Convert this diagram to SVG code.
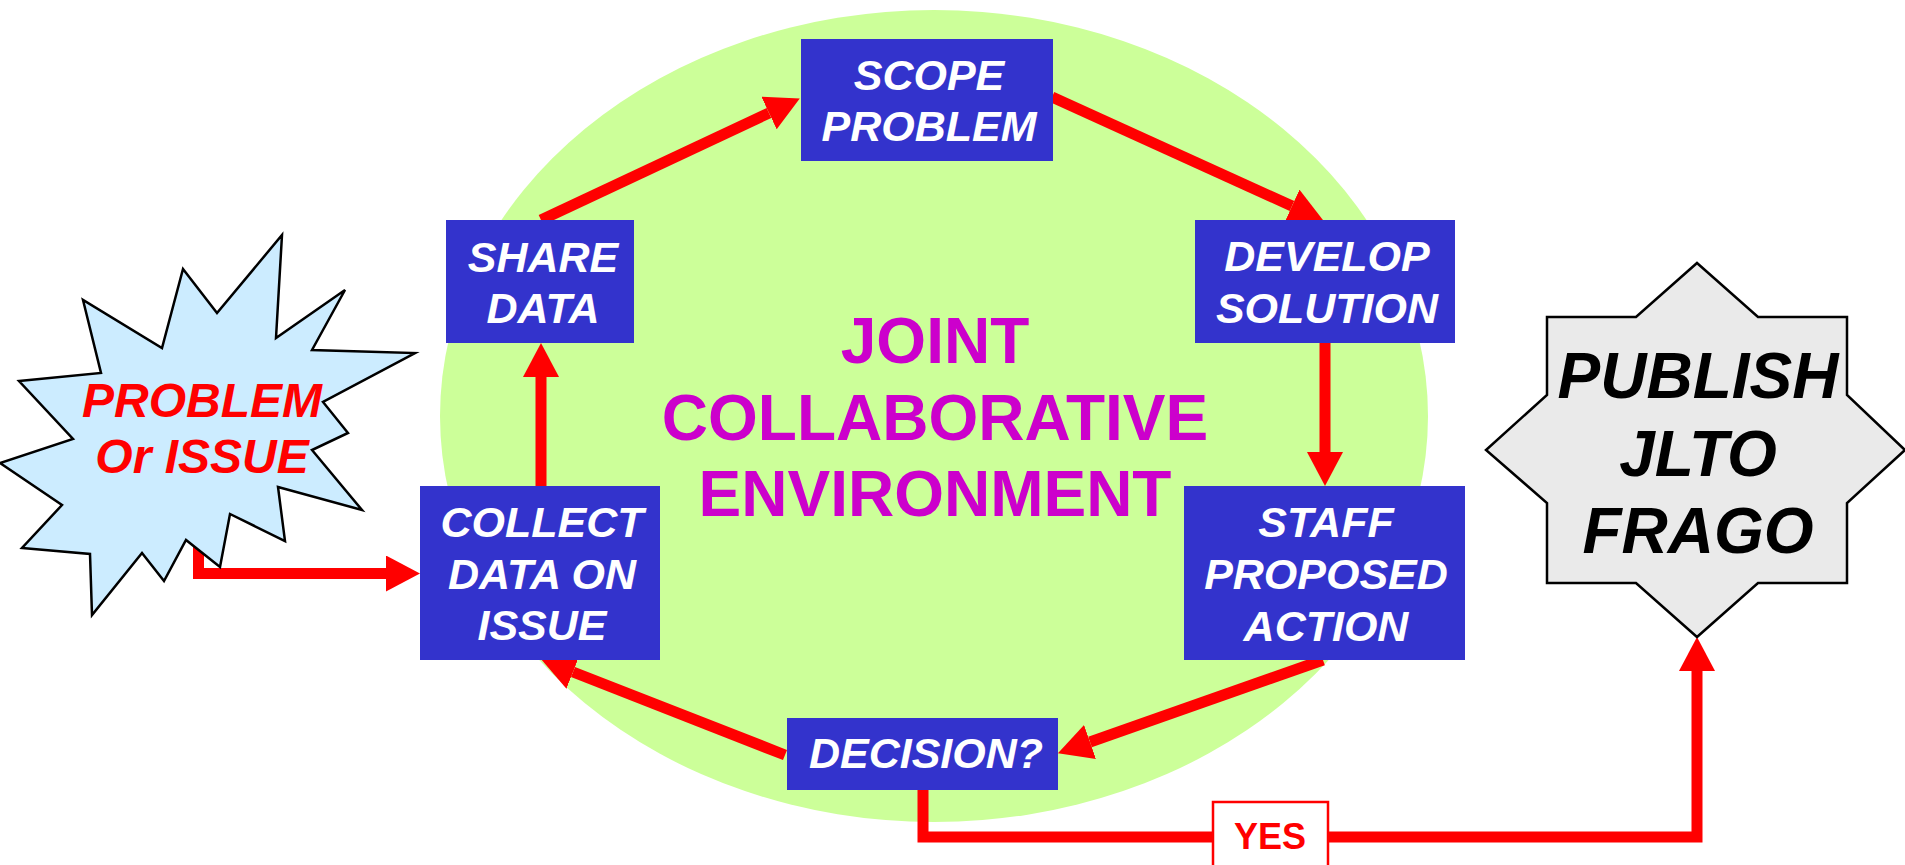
<svg xmlns="http://www.w3.org/2000/svg" width="1905" height="865" viewBox="0 0 1905 865">
<style>
.box{fill:#3333CC;}
.bt{font-family:"Liberation Sans",Arial,sans-serif;font-weight:bold;font-style:italic;font-size:43px;fill:#FFFFFF;text-anchor:middle;}
.title{font-family:"Liberation Sans",Arial,sans-serif;font-weight:bold;font-size:64px;fill:#CC00CC;text-anchor:middle;}
.conn{fill:none;stroke:#FF0000;stroke-width:11;marker-end:url(#ah);}
.star{stroke:#000000;stroke-width:2.5;stroke-linejoin:miter;}
</style>
<defs>
<marker id="ah" markerUnits="userSpaceOnUse" markerWidth="34" markerHeight="36" viewBox="0 0 34 36" refX="0" refY="18" orient="auto">
<path d="M0,0 L34,18 L0,36 z" fill="#FF0000"/>
</marker>
</defs>
<rect x="0" y="0" width="1905" height="865" fill="#FFFFFF"/>
<ellipse id="environment" cx="934" cy="416" rx="494" ry="406" fill="#CCFF99"/>
<g id="title">
<text class="title" x="935" y="363">JOINT</text>
<text class="title" x="935" y="440">COLLABORATIVE</text>
<text class="title" x="935" y="516">ENVIRONMENT</text>
</g>
<g id="connectors">
<path class="conn" d="M541,220 L769,113"/>
<path class="conn" d="M1052,97 L1292,206"/>
<path class="conn" d="M1325,343 L1325,452"/>
<path class="conn" d="M1323,660 L1090,742"/>
<path class="conn" d="M785,755 L573,672"/>
<path class="conn" d="M541,486 L541,377"/>
<path class="conn" d="M198.5,540 V573.5 H386"/>
<path class="conn" d="M923,789 V837 H1697 V671"/>
</g>
<g id="problem">
<polygon class="star" fill="#CCECFF" points="282,235 276,338 345,290 312,350 415,353 323,402 348,433 312,450 362,510 278,487 285,541 230,514 220,567 186,540 164,581 142,553 92,615 90,554 22,548 62,505 0,463 73,439 19,381 101,373 83,300 162,348 183,269 217,313"/>
<text x="202" y="417" font-family="'Liberation Sans',Arial,sans-serif" font-weight="bold" font-style="italic" font-size="48" fill="#FF0000" text-anchor="middle">PROBLEM</text>
<text x="202" y="473" font-family="'Liberation Sans',Arial,sans-serif" font-weight="bold" font-style="italic" font-size="48" fill="#FF0000" text-anchor="middle">Or ISSUE</text>
</g>
<g id="scope">
<rect class="box" x="801" y="39" width="252" height="122"/>
<text class="bt" x="929" y="90">SCOPE</text>
<text class="bt" x="929" y="141">PROBLEM</text>
</g>
<g id="share">
<rect class="box" x="446" y="220" width="188" height="123"/>
<text class="bt" x="543" y="272">SHARE</text>
<text class="bt" x="543" y="323">DATA</text>
</g>
<g id="develop">
<rect class="box" x="1195" y="220" width="260" height="123"/>
<text class="bt" x="1327" y="271">DEVELOP</text>
<text class="bt" x="1327" y="323">SOLUTION</text>
</g>
<g id="staff">
<rect class="box" x="1184" y="486" width="281" height="174"/>
<text class="bt" x="1326" y="537">STAFF</text>
<text class="bt" x="1326" y="589">PROPOSED</text>
<text class="bt" x="1326" y="641">ACTION</text>
</g>
<g id="collect">
<rect class="box" x="420" y="486" width="240" height="174"/>
<text class="bt" x="542" y="537">COLLECT</text>
<text class="bt" x="542" y="589">DATA ON</text>
<text class="bt" x="542" y="640">ISSUE</text>
</g>
<g id="decision">
<rect class="box" x="787" y="718" width="271" height="72"/>
<text class="bt" x="926" y="768">DECISION?</text>
</g>
<g id="yes">
<rect x="1213" y="802" width="115" height="80" fill="#FFFFFF" stroke="#FF0000" stroke-width="2.5"/>
<text x="1270" y="849" font-family="'Liberation Sans',Arial,sans-serif" font-weight="bold" font-size="36" fill="#FF0000" text-anchor="middle">YES</text>
</g>
<g id="publish">
<polygon class="star" fill="#EAEAEA" points="1697,263 1758,317 1847,317 1847,395 1905,450 1847,503 1847,583 1758,583 1697,637 1636,583 1547,583 1547,503 1486,450 1547,395 1547,317 1636,317"/>
<text x="1698" y="398" font-family="'Liberation Sans',Arial,sans-serif" font-weight="bold" font-style="italic" font-size="64" fill="#000000" text-anchor="middle">PUBLISH</text>
<text x="1698" y="476" font-family="'Liberation Sans',Arial,sans-serif" font-weight="bold" font-style="italic" font-size="64" fill="#000000" text-anchor="middle">JLTO</text>
<text x="1698" y="553" font-family="'Liberation Sans',Arial,sans-serif" font-weight="bold" font-style="italic" font-size="64" fill="#000000" text-anchor="middle">FRAGO</text>
</g>
</svg>
